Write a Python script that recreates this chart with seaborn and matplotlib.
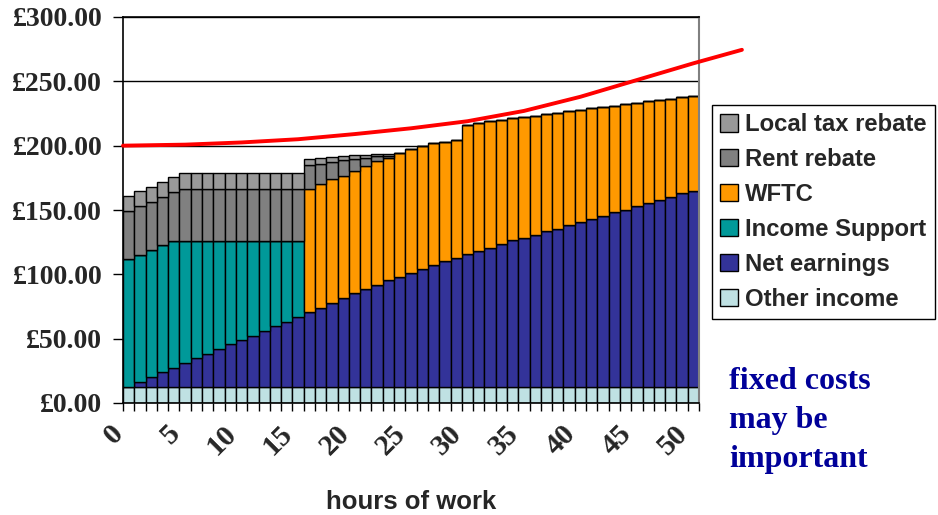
import matplotlib
matplotlib.use("Agg")
import matplotlib.pyplot as plt
import seaborn as sns
import pandas as pd
from matplotlib.patches import Patch

# weekly income by hours worked
hours = list(range(51))
other_income = [12.7] * 51
net_earnings = [0.0, 3.9, 7.5, 11.2, 14.8, 18.4, 22.1, 25.7, 29.6, 33.0,
                36.1, 39.5, 43.4, 47.0, 50.6, 54.0, 57.9, 61.5, 65.2, 68.8,
                72.5, 76.1, 79.2, 82.8, 85.4, 88.3, 91.7, 94.5, 97.4, 100.0,
                102.8, 105.3, 108.1, 110.6, 113.8, 115.6, 118.2, 120.8, 122.6, 125.4,
                128.3, 130.4, 133.0, 135.8, 137.6, 140.5, 143.1, 144.9, 147.5, 150.4,
                152.2]
income_support = [99.0, 98.7, 98.5, 98.7, 98.7, 95.1, 91.4, 87.8, 83.9, 80.5,
                  77.4, 74.0, 70.1, 66.5, 62.9, 59.5] + [0.0] * 35
wftc = [0.0] * 16 + [95.9, 96.1, 96.2, 95.1, 95.1, 95.1, 95.9, 94.9, 96.1, 96.1,
                     95.4, 94.6, 92.4, 91.7, 100.8, 100.0, 98.2, 96.7, 95.0, 94.3,
                     92.4, 90.9, 89.9, 88.9, 87.0, 86.0, 84.1, 82.1, 82.1, 80.3,
                     78.7, 77.7, 75.9, 74.8, 74.0]
rent_rebate = ([37.6, 37.7, 37.9, 37.6, 37.7] + [40.5] * 11
               + [18.7, 15.8, 13.0, 11.9, 9.4, 6.7, 4.1, 1.8] + [0.0] * 27)
local_tax_rebate = ([11.2, 11.4, 11.2, 11.5, 11.4] + [12.0] * 11
                    + [4.6, 4.7, 4.4, 3.4, 3.1, 2.1, 1.6, 1.3] + [0.0] * 27)

# the red cost line
cost_hours = [-0.5, 5, 10, 15, 20, 25, 30, 35, 40, 45, 50, 54.3]
cost_values = [200.0, 200.8, 202.5, 205.0, 209.0, 213.5, 219.0, 227.0, 238.0, 251.0, 264.0, 274.5]

tick_hours = list(range(0, 51, 5))
y_ticks = list(range(0, 301, 50))

components = {
    "Local tax rebate": local_tax_rebate,
    "Rent rebate": rent_rebate,
    "WFTC": wftc,
    "Income Support": income_support,
    "Net earnings": net_earnings,
    "Other income": other_income,
}
colors = {
    "Local tax rebate": "#999999",
    "Rent rebate": "#808080",
    "WFTC": "#FF9900",
    "Income Support": "#009999",
    "Net earnings": "#333399",
    "Other income": "#BFE1E3",
}
order = list(components.keys())

rows = []
for name, vals in components.items():
    for h, v in zip(hours, vals):
        rows.append({"hours": h, "component": name, "value": v})
df = pd.DataFrame(rows)

sns.set_style("white")
plt.rcParams["font.family"] = ["Liberation Sans", "DejaVu Sans"]

fig, ax = plt.subplots(figsize=(9.38, 5.15), dpi=100)
fig.subplots_adjust(left=123 / 938, right=699 / 938, top=1 - 17 / 515, bottom=1 - 403 / 515)

sns.histplot(data=df, x="hours", weights="value", hue="component", hue_order=order,
             multiple="stack", discrete=True, shrink=1, palette=colors,
             edgecolor="black", linewidth=1, alpha=1, legend=False, ax=ax)

sns.lineplot(x=cost_hours, y=cost_values, color="#FF0000", linewidth=2.8, ax=ax)
ax.lines[-1].set_clip_on(False)
ax.lines[-1].set_zorder(5)

ax.set_xlim(-0.5, 50.5)
ax.set_ylim(0, 300)
ax.set_axisbelow(True)
ax.yaxis.grid(True, color="black", linewidth=1)
ax.xaxis.grid(False)

serif_bold = {"family": "Liberation Serif", "weight": "bold", "size": 20}
ax.set_yticks(y_ticks)
ax.set_yticklabels([f"£{v:.2f}" for v in y_ticks], fontdict=serif_bold)
ax.tick_params(axis="y", length=7, width=1, color="black", direction="out", pad=8, left=True)

x_font = dict(serif_bold, size=21.5)
ax.set_xticks(tick_hours)
ax.set_xticklabels([str(h) for h in tick_hours], fontdict=x_font, rotation=45, ha="right")
ax.set_xticks([h - 0.5 for h in hours] + [50.5], minor=True)
ax.tick_params(axis="x", which="major", length=0, pad=12, bottom=True)
ax.tick_params(axis="x", which="minor", length=6, width=1, color="black", direction="out", bottom=True)

for side in ["left", "bottom", "top"]:
    ax.spines[side].set_color("black")
    ax.spines[side].set_linewidth(1.2)
ax.spines["right"].set_color("#808080")
ax.spines["right"].set_linewidth(1.5)

ax.set_ylabel("")
ax.set_xlabel("hours of work", fontsize=18.5, fontweight="bold", family="Liberation Sans")
ax.xaxis.label.set_va("center")
ax.xaxis.set_label_coords(0.5, -(502 - 403) / 386)

handles = [Patch(facecolor=colors[n], edgecolor="black", linewidth=1, label=n) for n in order]
leg = fig.legend(handles=handles, loc="upper left", bbox_to_anchor=(712 / 938, 1 - 105 / 515),
                 frameon=True, fancybox=False, edgecolor="black", framealpha=1,
                 prop={"family": "Liberation Sans", "weight": "bold", "size": 17.2},
                 borderpad=0.35, labelspacing=0.5, handlelength=0.72, handleheight=0.72,
                 handletextpad=0.3, borderaxespad=0)
leg.get_frame().set_linewidth(1)

fig.text(729 / 938, 1 - 367 / 515, "fixed costs\nmay be\nimportant", color="#000099",
         family="Liberation Serif", fontweight="bold", fontsize=23, va="top", ha="left",
         linespacing=1.45)

fig.savefig("out.png", dpi=100)
